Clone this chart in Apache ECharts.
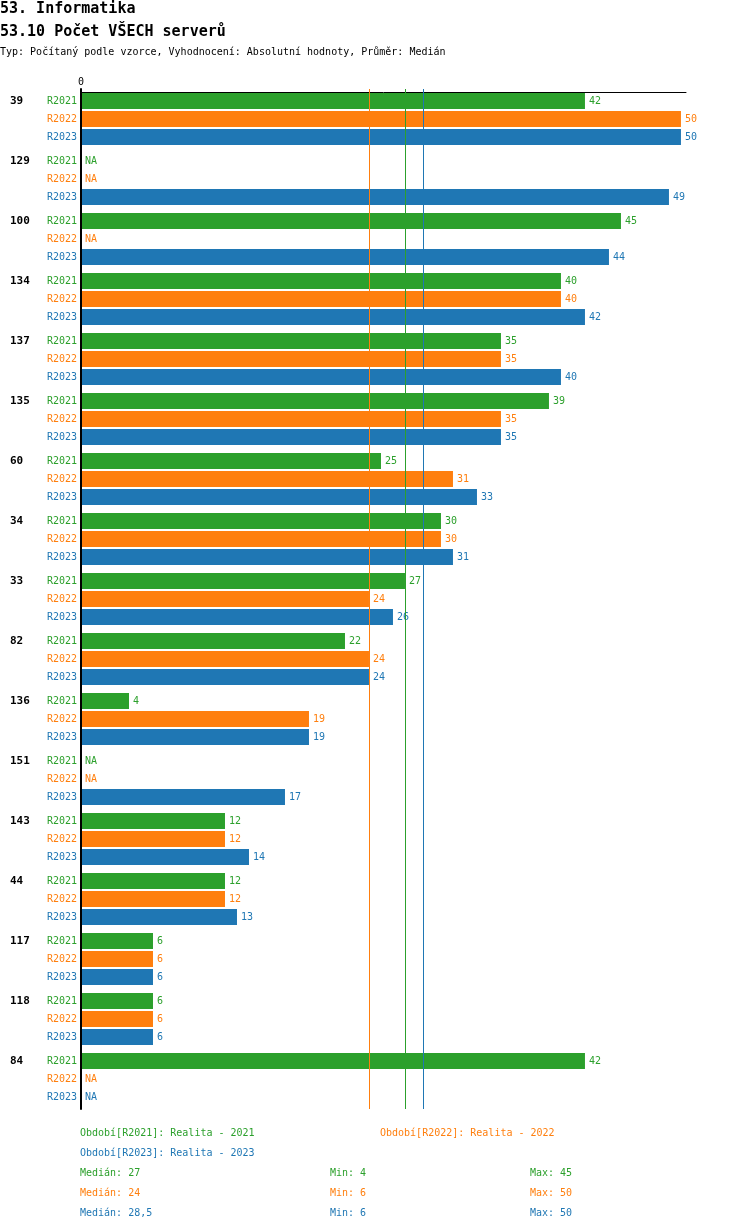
<!DOCTYPE html>
<html>
<head>
<meta charset="utf-8">
<script src="https://cdn.jsdelivr.net/npm/echarts@6/dist/echarts.min.js"></script>
<style>
  html, body { margin: 0; padding: 0; background: #fff; }
  #main { width: 750px; height: 1232px; }
</style>
</head>
<body>
<div id="main"></div>
<script>
// group ids shown on the left, top to bottom
const groups = ['39', '129', '100', '134', '137', '135', '60', '34', '33', '82', '136', '151', '143', '44', '117', '118', '84'];
const r2021 = [42, null, 45, 40, 35, 39, 25, 30, 27, 22, 4, null, 12, 12, 6, 6, 42];
const r2022 = [50, null, null, 40, 35, 35, 31, 30, 24, 24, 19, null, 12, 12, 6, 6, null];
const r2023 = [50, 49, 44, 42, 40, 35, 33, 31, 26, 24, 19, 17, 14, 13, 6, 6, null];

const periods = ['R2021', 'R2022', 'R2023'];
const periodNames = ['Realita - 2021', 'Realita - 2022', 'Realita - 2023'];
const medians = [27, 24, 28.5];
const mins = [4, 6, 6];
const maxs = [45, 50, 50];
const colors = ['#2ca02c', '#ff7f0e', '#1f77b4'];

const FONT = '"DejaVu Sans Mono", "Liberation Mono", monospace';
const fmtNum = (v) => String(v).replace('.', ',');

const seriesValues = [r2021, r2022, r2023];

const barSeries = periods.map((p, i) => ({
  name: p,
  type: 'bar',
  z: 2,
  barWidth: 16,
  barGap: '12.5%',
  itemStyle: { color: colors[i] },
  label: {
    show: true,
    position: 'right',
    distance: 4,
    color: colors[i],
    fontFamily: FONT,
    fontSize: 10,
    formatter: (prm) => (prm.data && prm.data.na ? 'NA' : prm.value)
  },
  data: seriesValues[i].map((v) => (v == null ? { value: 0, na: true } : v))
}));

// median lines, kept in their own series so they sit under the bars
const medianSeries = {
  type: 'scatter',
  z: 1,
  data: [],
  silent: true,
  markLine: {
    silent: true,
    symbol: 'none',
    animation: false,
    label: { show: false },
    data: medians.map((m, i) => ({
      xAxis: m,
      lineStyle: { color: colors[i], width: 1, type: 'solid' }
    }))
  }
};

const rich = {
  g: { width: 37, align: 'left', fontWeight: 'bold', fontSize: 11, color: '#000', lineHeight: 18, fontFamily: FONT }
};
periods.forEach((p, i) => {
  rich['r' + i] = { width: 30, align: 'right', fontSize: 10, color: colors[i], lineHeight: 18, fontFamily: FONT };
});

const titles = [
  { text: '53. Informatika', left: 0, top: 2, textStyle: { fontSize: 15, fontWeight: 'bold', color: '#000', fontFamily: FONT } },
  { text: '53.10 Počet VŠECH serverů', left: 0, top: 25, textStyle: { fontSize: 15, fontWeight: 'bold', color: '#000', fontFamily: FONT } },
  { text: 'Typ: Počítaný podle vzorce, Vyhodnocení: Absolutní hodnoty, Průměr: Medián', left: 0, top: 47, textStyle: { fontSize: 10, fontWeight: 'normal', color: '#000', fontFamily: FONT } }
];
const legendPos = [[80, 1128], [380, 1128], [80, 1148]];
periods.forEach((p, i) => {
  titles.push({
    text: 'Období[' + p + ']: ' + periodNames[i],
    left: legendPos[i][0], top: legendPos[i][1],
    textStyle: { fontSize: 10, fontWeight: 'normal', color: colors[i], fontFamily: FONT }
  });
  const top = 1168 + i * 20;
  [['Medián: ' + fmtNum(medians[i]), 80], ['Min: ' + fmtNum(mins[i]), 330], ['Max: ' + fmtNum(maxs[i]), 530]].forEach(([t, x]) => {
    titles.push({
      text: t, left: x, top: top,
      textStyle: { fontSize: 10, fontWeight: 'normal', color: colors[i], fontFamily: FONT }
    });
  });
});

const chart = echarts.init(document.getElementById('main'), null, { renderer: 'canvas' });
chart.setOption({
  animation: false,
  backgroundColor: '#fff',
  title: titles.map((t) => Object.assign({ padding: 0 }, t)),
  grid: { left: 81, top: 89, width: 605, height: 1020, containLabel: false },
  xAxis: {
    type: 'value',
    position: 'top',
    min: 0,
    max: 50.42,
    offset: -3,
    splitLine: { show: false },
    axisTick: { show: false },
    axisLine: { show: true, lineStyle: { color: '#000', width: 1 } },
    axisLabel: {
      margin: 5,
      fontFamily: FONT,
      fontSize: 10,
      color: '#000',
      showMaxLabel: false,
      formatter: (v) => (v === 0 ? '0' : '')
    }
  },
  yAxis: {
    type: 'category',
    inverse: true,
    data: groups,
    z: 5,
    axisTick: { show: false },
    axisLine: { show: true, lineStyle: { color: '#000', width: 2 } },
    axisLabel: {
      margin: 4,
      interval: 0,
      formatter: (v) => '{g|' + v + '}' + periods.map((p, i) => '{r' + i + '|' + p + '}').join('\n'),
      rich: rich
    }
  },
  series: [medianSeries].concat(barSeries)
});
</script>
</body>
</html>
